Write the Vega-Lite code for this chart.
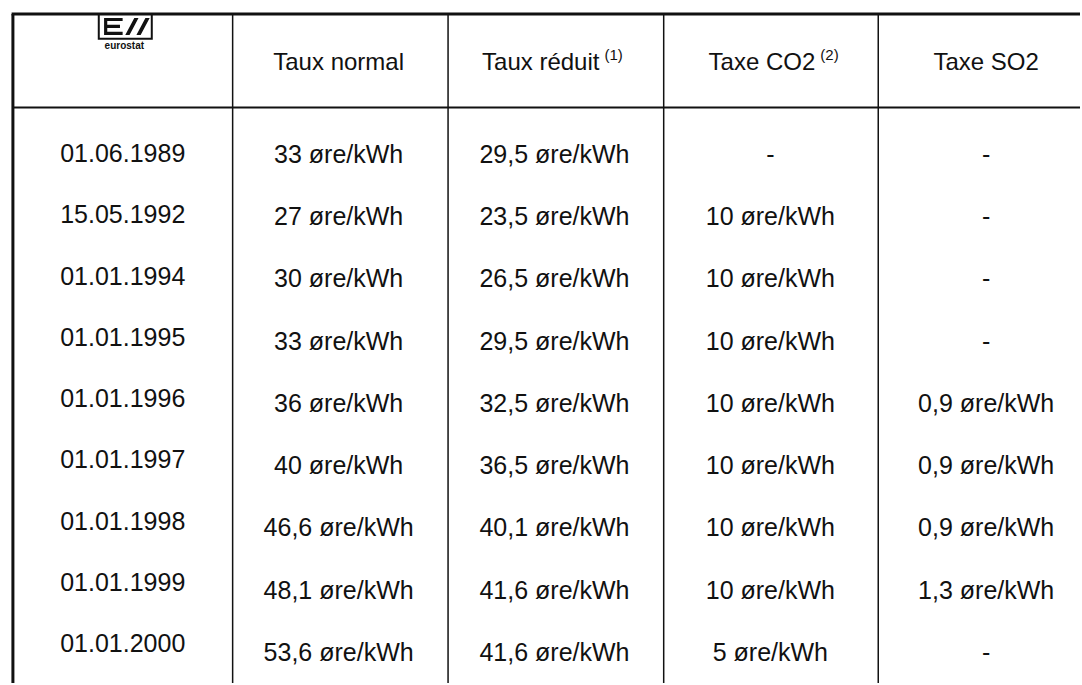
{
  "$schema": "https://vega.github.io/schema/vega-lite/v6.json",
  "width": 1082,
  "height": 685,
  "padding": 0,
  "autosize": {"type": "fit", "contains": "padding"},
  "background": "white",
  "config": {"view": {"stroke": null}, "text": {"font": "Liberation Sans", "color": "#111"}},
  "resolve": {"scale": {"y": "independent"}},
  "datasets": {
    "edges": [{"e": 0.509}, {"e": 1.507}, {"e": 2.506}, {"e": 3.5}],
    "header": [
      {"c": 1, "t": "Taux normal"},
      {"c": 2, "t": "Taux réduit", "sup": "(1)"},
      {"c": 3, "t": "Taxe CO2", "sup": "(2)"},
      {"c": 4, "t": "Taxe SO2"}
    ],
    "cells": [
      {"r": 0, "c": 0, "t": "01.06.1989"}, {"r": 0, "c": 1, "t": "33 øre/kWh"}, {"r": 0, "c": 2, "t": "29,5 øre/kWh"}, {"r": 0, "c": 3, "t": "-"}, {"r": 0, "c": 4, "t": "-"},
      {"r": 1, "c": 0, "t": "15.05.1992"}, {"r": 1, "c": 1, "t": "27 øre/kWh"}, {"r": 1, "c": 2, "t": "23,5 øre/kWh"}, {"r": 1, "c": 3, "t": "10 øre/kWh"}, {"r": 1, "c": 4, "t": "-"},
      {"r": 2, "c": 0, "t": "01.01.1994"}, {"r": 2, "c": 1, "t": "30 øre/kWh"}, {"r": 2, "c": 2, "t": "26,5 øre/kWh"}, {"r": 2, "c": 3, "t": "10 øre/kWh"}, {"r": 2, "c": 4, "t": "-"},
      {"r": 3, "c": 0, "t": "01.01.1995"}, {"r": 3, "c": 1, "t": "33 øre/kWh"}, {"r": 3, "c": 2, "t": "29,5 øre/kWh"}, {"r": 3, "c": 3, "t": "10 øre/kWh"}, {"r": 3, "c": 4, "t": "-"},
      {"r": 4, "c": 0, "t": "01.01.1996"}, {"r": 4, "c": 1, "t": "36 øre/kWh"}, {"r": 4, "c": 2, "t": "32,5 øre/kWh"}, {"r": 4, "c": 3, "t": "10 øre/kWh"}, {"r": 4, "c": 4, "t": "0,9 øre/kWh"},
      {"r": 5, "c": 0, "t": "01.01.1997"}, {"r": 5, "c": 1, "t": "40 øre/kWh"}, {"r": 5, "c": 2, "t": "36,5 øre/kWh"}, {"r": 5, "c": 3, "t": "10 øre/kWh"}, {"r": 5, "c": 4, "t": "0,9 øre/kWh"},
      {"r": 6, "c": 0, "t": "01.01.1998"}, {"r": 6, "c": 1, "t": "46,6 øre/kWh"}, {"r": 6, "c": 2, "t": "40,1 øre/kWh"}, {"r": 6, "c": 3, "t": "10 øre/kWh"}, {"r": 6, "c": 4, "t": "0,9 øre/kWh"},
      {"r": 7, "c": 0, "t": "01.01.1999"}, {"r": 7, "c": 1, "t": "48,1 øre/kWh"}, {"r": 7, "c": 2, "t": "41,6 øre/kWh"}, {"r": 7, "c": 3, "t": "10 øre/kWh"}, {"r": 7, "c": 4, "t": "1,3 øre/kWh"},
      {"r": 8, "c": 0, "t": "01.01.2000"}, {"r": 8, "c": 1, "t": "53,6 øre/kWh"}, {"r": 8, "c": 2, "t": "41,6 øre/kWh"}, {"r": 8, "c": 3, "t": "5 øre/kWh"}, {"r": 8, "c": 4, "t": "-"}
    ]
  },
  "layer": [
    {
      "data": {"name": "edges"},
      "mark": {"type": "rule", "stroke": "#111", "strokeWidth": 1.5},
      "encoding": {
        "x": {"field": "e", "type": "quantitative", "axis": null, "scale": {"domain": [-0.5688, 4.4347], "nice": false, "zero": false}},
        "y": {"datum": -2.274, "type": "quantitative", "axis": null, "scale": {"domain": [-2.5, 8.548], "reverse": true, "nice": false, "zero": false}},
        "y2": {"datum": 8.548}
      }
    },
    {
      "data": {"values": [{}]},
      "mark": {"type": "rule", "stroke": "#111", "strokeWidth": 3},
      "encoding": {
        "x": {"datum": -0.509, "type": "quantitative", "axis": null, "scale": {"domain": [-0.5688, 4.4347], "nice": false, "zero": false}},
        "y": {"datum": -2.274, "type": "quantitative", "axis": null, "scale": {"domain": [-2.5, 8.548], "reverse": true, "nice": false, "zero": false}},
        "y2": {"datum": 8.548}
      }
    },
    {
      "data": {"values": [{}]},
      "mark": {"type": "rule", "stroke": "#111", "strokeWidth": 3},
      "encoding": {
        "x": {"datum": -0.515, "type": "quantitative", "axis": null, "scale": {"domain": [-0.5688, 4.4347], "nice": false, "zero": false}},
        "x2": {"datum": 4.4347},
        "y": {"datum": -2.274, "type": "quantitative", "axis": null, "scale": {"domain": [-2.5, 8.548], "reverse": true, "nice": false, "zero": false}}
      }
    },
    {
      "data": {"values": [{}]},
      "mark": {"type": "rule", "stroke": "#111", "strokeWidth": 2},
      "encoding": {
        "x": {"datum": -0.509, "type": "quantitative", "axis": null, "scale": {"domain": [-0.5688, 4.4347], "nice": false, "zero": false}},
        "x2": {"datum": 4.4347},
        "y": {"datum": -0.76, "type": "quantitative", "axis": null, "scale": {"domain": [-2.5, 8.548], "reverse": true, "nice": false, "zero": false}}
      }
    },
    {
      "data": {"name": "header"},
      "transform": [{"filter": "!datum.sup"}],
      "mark": {"type": "text", "fontSize": 24, "align": "center", "baseline": "middle"},
      "encoding": {
        "x": {"field": "c", "type": "quantitative", "axis": null, "scale": {"domain": [-0.5688, 4.4347], "nice": false, "zero": false}},
        "y": {"datum": -1.484, "type": "quantitative", "axis": null, "scale": {"domain": [-2.5, 8.548], "reverse": true, "nice": false, "zero": false}},
        "text": {"field": "t"}
      }
    },
    {
      "data": {"name": "header"},
      "transform": [{"filter": "datum.sup"}],
      "mark": {"type": "text", "fontSize": 24, "align": "right", "baseline": "middle", "dx": 45},
      "encoding": {
        "x": {"field": "c", "type": "quantitative", "axis": null, "scale": {"domain": [-0.5688, 4.4347], "nice": false, "zero": false}},
        "y": {"datum": -1.484, "type": "quantitative", "axis": null, "scale": {"domain": [-2.5, 8.548], "reverse": true, "nice": false, "zero": false}},
        "text": {"field": "t"}
      }
    },
    {
      "data": {"name": "header"},
      "transform": [{"filter": "datum.sup"}],
      "mark": {"type": "text", "fontSize": 15, "align": "left", "baseline": "middle", "dx": 50, "dy": -8},
      "encoding": {
        "x": {"field": "c", "type": "quantitative", "axis": null, "scale": {"domain": [-0.5688, 4.4347], "nice": false, "zero": false}},
        "y": {"datum": -1.484, "type": "quantitative", "axis": null, "scale": {"domain": [-2.5, 8.548], "reverse": true, "nice": false, "zero": false}},
        "text": {"field": "sup"}
      }
    },
    {
      "data": {"name": "cells"},
      "transform": [{"filter": "datum.c == 0"}],
      "mark": {"type": "text", "fontSize": 25, "align": "center", "baseline": "middle"},
      "encoding": {
        "x": {"field": "c", "type": "quantitative", "axis": null, "scale": {"domain": [-0.5688, 4.4347], "nice": false, "zero": false}},
        "y": {"field": "r", "type": "quantitative", "axis": null, "scale": {"domain": [-2.5147, 8.634], "reverse": true, "nice": false, "zero": false}},
        "text": {"field": "t"}
      }
    },
    {
      "data": {"name": "cells"},
      "transform": [{"filter": "datum.c > 0"}],
      "mark": {"type": "text", "fontSize": 25, "align": "center", "baseline": "middle"},
      "encoding": {
        "x": {"field": "c", "type": "quantitative", "axis": null, "scale": {"domain": [-0.5688, 4.4347], "nice": false, "zero": false}},
        "y": {"field": "r", "type": "quantitative", "axis": null, "scale": {"domain": [-2.48, 8.48], "reverse": true, "nice": false, "zero": false}},
        "text": {"field": "t"}
      }
    },
    {
      "data": {"values": [{}]},
      "mark": {"type": "point", "shape": "M-1,-0.47L1,-0.47L1,0.47L-1,0.47Z", "size": 2809, "filled": false, "stroke": "#111", "strokeWidth": 2, "opacity": 1},
      "encoding": {
        "x": {"datum": 0.0116, "type": "quantitative", "axis": null, "scale": {"domain": [-0.5688, 4.4347], "nice": false, "zero": false}},
        "y": {"datum": -2.073, "type": "quantitative", "axis": null, "scale": {"domain": [-2.5, 8.548], "reverse": true, "nice": false, "zero": false}}
      }
    },
    {
      "data": {"values": [{}]},
      "mark": {"type": "point", "shape": "M-0.8,-0.32H-0.1V-0.2H-0.8ZM-0.8,-0.06H-0.2V0.06H-0.8ZM-0.8,0.2H-0.1V0.32H-0.8ZM-0.8,-0.32H-0.68V0.32H-0.8ZM0,0.32L0.16,0.32L0.5,-0.32L0.34,-0.32ZM0.42,0.32L0.58,0.32L0.92,-0.32L0.76,-0.32Z", "size": 2809, "filled": true, "fill": "#111", "strokeWidth": 0, "opacity": 1},
      "encoding": {
        "x": {"datum": 0.0116, "type": "quantitative", "axis": null, "scale": {"domain": [-0.5688, 4.4347], "nice": false, "zero": false}},
        "y": {"datum": -2.073, "type": "quantitative", "axis": null, "scale": {"domain": [-2.5, 8.548], "reverse": true, "nice": false, "zero": false}}
      }
    },
    {
      "data": {"values": [{}]},
      "mark": {"type": "text", "text": "eurostat", "fontSize": 10, "fontWeight": "bold", "align": "center", "baseline": "middle"},
      "encoding": {
        "x": {"datum": 0.007, "type": "quantitative", "axis": null, "scale": {"domain": [-0.5688, 4.4347], "nice": false, "zero": false}},
        "y": {"datum": -1.758, "type": "quantitative", "axis": null, "scale": {"domain": [-2.5, 8.548], "reverse": true, "nice": false, "zero": false}}
      }
    }
  ]
}
